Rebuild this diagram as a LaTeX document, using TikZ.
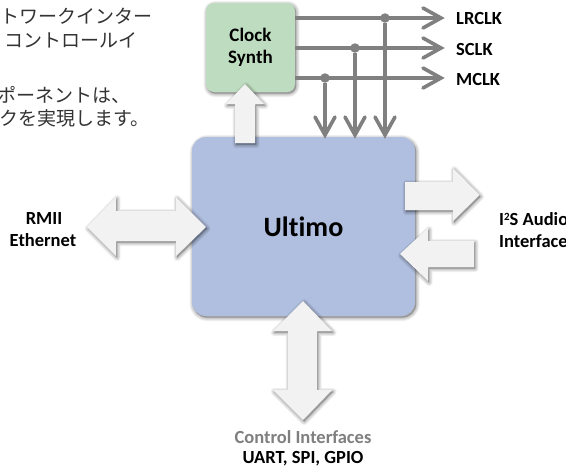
\documentclass[tikz,border=0pt]{standalone}
\usepackage{fontspec}
\setmainfont{Carlito}[Ligatures=NoCommon]
\newfontfamily\cjk{Noto Sans CJK JP}
\definecolor{wire}{HTML}{808080}
\definecolor{fatfill}{HTML}{F2F2F2}
\definecolor{clockfill}{HTML}{BEDDC0}
\definecolor{mainfill}{HTML}{B0BFDF}
\definecolor{ctrlgray}{HTML}{7F7F7F}
\newcommand{\softshadow}[1]{%
  \foreach \w in {7,5.5,4,2.5,1}{%
    \draw[line join=round,draw=black,fill=black,opacity=0.05,line width=\w pt,shift={(1.2pt,-1.6pt)}] #1;}%
}
\newcommand{\fatarrow}[1]{\softshadow{#1}\fill[fatfill] #1;}
\tikzset{
  x=1pt,y=-1pt,
  lab/.style={font=\fontsize{18.5}{22}\selectfont\bfseries,text=black,inner sep=0pt},
  jp/.style={font=\fontsize{19}{22}\selectfont\cjk,text=black!80,anchor=east,inner sep=0pt},
  wireline/.style={draw=wire,line width=3.6pt},
  chevron/.style={draw=wire,line width=3.6pt,line cap=round,line join=miter},
  dot/.style={circle,fill=wire,minimum size=9.5pt,inner sep=0pt},
  clockbox/.style={rounded corners=8pt,fill=clockfill,minimum width=89pt,minimum height=89pt,inner sep=0pt,
    font=\fontsize{19}{22}\selectfont\bfseries,align=center},
  mainbox/.style={rounded corners=14pt,fill=mainfill,minimum width=223pt,minimum height=179pt,inner sep=0pt,
    font=\fontsize{28}{30}\selectfont\bfseries},
}
\begin{document}
\begin{tikzpicture}
\useasboundingbox (0,0) rectangle (566,469);
\fill[white] (0,0) rectangle (566,469);
\clip (0,0) rectangle (566,469);
% Japanese text
\node[jp] (j1) at (153,16) {トワークインター};
\node[jp] (j2) at (138,40) {コントロールイ};
\node[jp] (j3) at (131,95) {ポーネントは、};
\node[jp] (j4) at (150,118) {クを実現します。};
% boxes
\softshadow{[rounded corners=8pt] (206,3) rectangle (295,92)}
\node[clockbox] (clock) at (250.5,47.5) {Clock\\Synth};
\softshadow{[rounded corners=14pt] (192,137) rectangle (415,316)}
\node[mainbox] (main) at (303.5,226.5) {Ultimo};
% signal labels
\node[lab,anchor=west] (lr) at (456,18) {LRCLK};
\node[lab,anchor=west] (sc) at (456,49) {SCLK};
\node[lab,anchor=west] (mc) at (456,79) {MCLK};
% wires
\coordinate (lrs) at (clock.east |- 0,18);
\coordinate (scs) at (clock.east |- 0,48);
\coordinate (mcs) at (clock.east |- 0,78);
\coordinate (lre) at (441,18);
\coordinate (sce) at (441,48);
\coordinate (mce) at (441,78);
\node[dot] (dl) at (385,18) {};
\node[dot] (ds) at (355,48) {};
\node[dot] (dm) at (325,78) {};
\coordinate (dle) at (385,135);
\coordinate (dse) at (355,135);
\coordinate (dme) at (325,135);
\draw[wireline] (lrs) -- (lre);
\draw[wireline] (scs) -- (sce);
\draw[wireline] (mcs) -- (mce);
\draw[wireline] (dl) -- (dle);
\draw[wireline] (ds) -- (dse);
\draw[wireline] (dm) -- (dme);
\foreach \p in {lre,sce,mce}{\draw[chevron] ([shift={(-18,-10)}]\p) -- (\p) -- ([shift={(-18,10)}]\p);}
\foreach \p in {dle,dse,dme}{\draw[chevron] ([shift={(-10,-18)}]\p) -- (\p) -- ([shift={(10,-18)}]\p);}
% fat arrows
\fatarrow{(245,84) -- (264,104) -- (255,104) -- (255,143) -- (235,143) -- (235,104) -- (226,104) -- cycle}
\fatarrow{(87,227) -- (116,197) -- (116,211) -- (176,211) -- (176,197) -- (206,227) -- (176,256) -- (176,241) -- (116,241) -- (116,256) -- cycle}
\fatarrow{(479.5,195) -- (453,168) -- (453,182) -- (405,182) -- (405,210) -- (453,210) -- (453,221) -- cycle}
\fatarrow{(400,254) -- (428,228) -- (428,241) -- (474,241) -- (474,267) -- (428,267) -- (428,281) -- cycle}
\fatarrow{(303,301) -- (332,331) -- (317,331) -- (317,390) -- (332,390) -- (303,420) -- (273,390) -- (288,390) -- (288,331) -- (273,331) -- cycle}
% labels
\node[lab] (rmii) at (44,218) {RMII};
\node[lab] (eth) at (43,240) {Ethernet};
\node[lab,anchor=west] (i2s) at (499,219) {I\raisebox{5pt}{\fontsize{11}{12}\selectfont 2}S Audio};
\node[lab,anchor=west] (ifc) at (499,241) {Interface};
\node[lab,text=ctrlgray] (ci) at (303,437) {Control Interfaces};
\node[lab] (us) at (303,459) {UART, SPI, GPIO};
\end{tikzpicture}
\end{document}
